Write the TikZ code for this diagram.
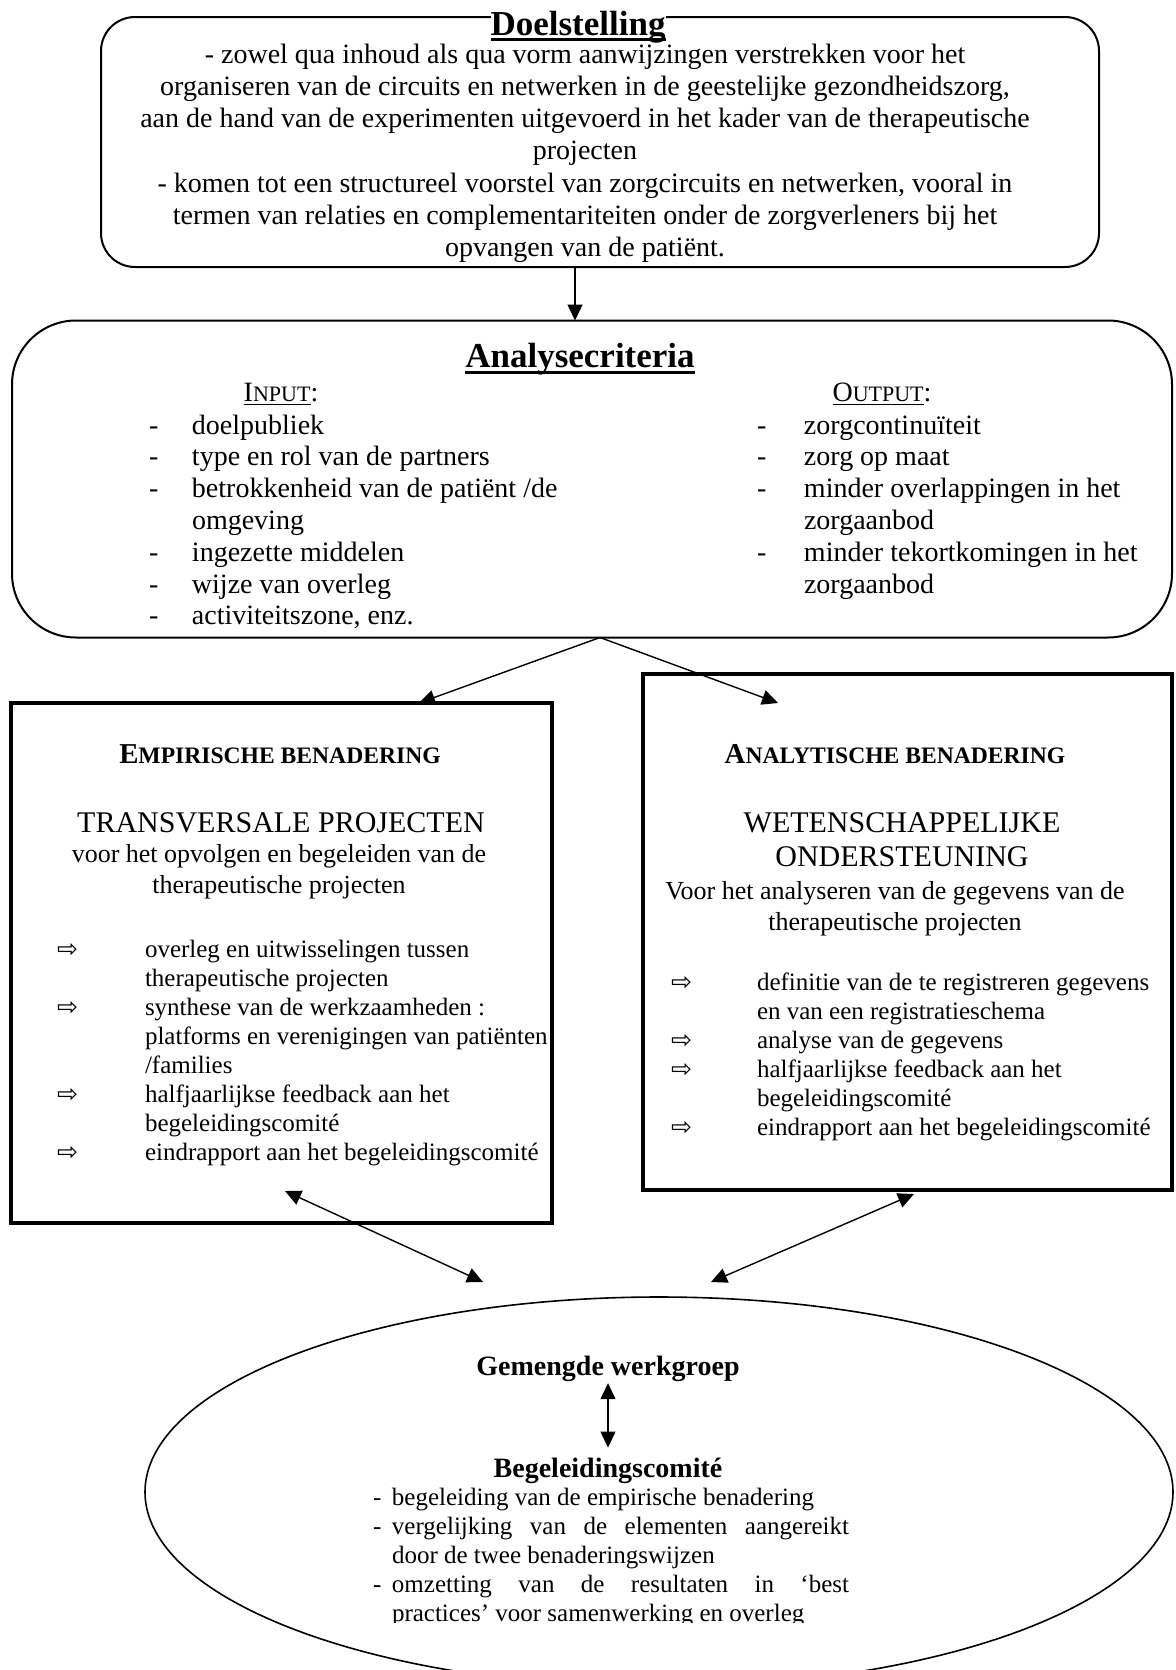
\documentclass[tikz,border=0pt]{standalone}
\usepackage{fontspec}
\setmainfont{Liberation Serif}
\newfontfamily\dejavu{DejaVu Sans}
\usetikzlibrary{arrows.meta,shapes.geometric}
\newcommand\fsz[2]{\fontsize{#1}{#2}\selectfont}
\newcommand\itemarrow{{\dejavu\fsz{12.5}{13}⇨}}
\begin{document}
\begin{tikzpicture}[x=0.5pt,y=-0.5pt,
  every node/.style={inner sep=0pt, outer sep=0pt},
  rbox/.style={draw, line width=1pt},
  sbox/.style={draw, line width=1.8pt},
  arr/.style={-{Triangle[length=8pt,width=7.5pt]}, line width=0.7pt},
  dbl/.style={{Triangle[length=8pt,width=7.5pt]}-{Triangle[length=8pt,width=7.5pt]}, line width=0.7pt},
  txt/.style={anchor=base},
  lst/.style={anchor=base west},
]
\useasboundingbox (0,0) rectangle (1175,1670);
\fill[white] (0,0) rectangle (1175,1670);

% boxes
\node[rbox, rounded corners=17pt, minimum width=499pt, minimum height=125pt] (goal) at (600,142) {};
\node[rbox, rounded corners=32pt, minimum width=580pt, minimum height=158.5pt] (ana) at (592,479) {};
\node[sbox, minimum width=270.5pt, minimum height=260pt] (emp) at (281.5,963) {};
\node[sbox, minimum width=264.5pt, minimum height=258pt] (anl) at (907.5,932) {};
\node[draw, ellipse, line width=0.8pt, minimum width=514pt, minimum height=195pt] (ell) at (659,1492) {};

% goal box text
\node[txt, fill=white] (goalT) at (578,35) {\fsz{17.5}{20}\bfseries Doelstelling};
\draw[line width=1.2pt] ([yshift=-2.3pt]goalT.base west) -- ([yshift=-2.3pt]goalT.base east);
\node[txt] (goalB) at (585,63) {\fsz{14}{16.15}\begin{tabular}[t]{@{}c@{}}
- zowel qua inhoud als qua vorm aanwijzingen verstrekken voor het\\
organiseren van de circuits en netwerken in de geestelijke gezondheidszorg,\\
aan de hand van de experimenten uitgevoerd in het kader van de therapeutische\\
projecten\\
- komen tot een structureel voorstel van zorgcircuits en netwerken, vooral in\\
termen van relaties en complementariteiten onder de zorgverleners bij het\\
opvangen van de patiënt.
\end{tabular}};

% analysis box text
\node[txt] (anaT) at (580,367) {\fsz{17.5}{20}\bfseries Analysecriteria};
\draw[line width=1.4pt] ([yshift=-2.6pt]anaT.base west) -- ([yshift=-2.6pt]anaT.base east);
\node[txt] (inT) at (281,401) {\fsz{14}{16}\underline{I{\fsz{11}{13}NPUT}}:};
\node[txt] (outT) at (882,401) {\fsz{14}{16}\underline{O{\fsz{11}{13}UTPUT}}:};
\node[lst] (inL) at (149,434) {\fsz{14}{15.9}\begin{tabular}[t]{@{}p{21.5pt}@{}l@{}}
- & doelpubliek\\
- & type en rol van de partners\\
- & betrokkenheid van de patiënt /de\\
  & omgeving\\
- & ingezette middelen\\
- & wijze van overleg\\
- & activiteitszone, enz.
\end{tabular}};
\node[lst] (outL) at (757,434) {\fsz{14}{15.9}\begin{tabular}[t]{@{}p{23.5pt}@{}l@{}}
- & zorgcontinuïteit\\
- & zorg op maat\\
- & minder overlappingen in het\\
  & zorgaanbod\\
- & minder tekortkomingen in het\\
  & zorgaanbod
\end{tabular}};

% empirical box text
\node[txt] (empT) at (280,763) {\bfseries\fsz{14.4}{16}E\fsz{11.8}{14}MPIRISCHE BENADERING};
\node[txt] (empS) at (281,832) {\fsz{15}{17}TRANSVERSALE PROJECTEN};
\node[txt] (empD) at (279,862) {\fsz{13}{15.8}\begin{tabular}[t]{@{}c@{}}voor het opvolgen en begeleiden van de\\therapeutische projecten\end{tabular}};
\node[lst] (empL) at (57,957) {\fsz{12.5}{14.5}\begin{tabular}[t]{@{}p{44pt}@{}l@{}}
\itemarrow & overleg en uitwisselingen tussen\\
 & therapeutische projecten\\
\itemarrow & synthese van de werkzaamheden :\\
 & platforms en verenigingen van patiënten\\
 & /families\\
\itemarrow & halfjaarlijkse feedback aan het\\
 & begeleidingscomité\\
\itemarrow & eindrapport aan het begeleidingscomité
\end{tabular}};

% analytical box text
\node[txt] (anlT) at (895,763) {\bfseries\fsz{14.4}{16}A\fsz{11.8}{14}NALYTISCHE BENADERING};
\node[txt] (anlS) at (902,832) {\fsz{15}{17.3}\begin{tabular}[t]{@{}c@{}}WETENSCHAPPELIJKE\\ONDERSTEUNING\end{tabular}};
\node[txt] (anlD) at (895,899) {\fsz{13}{15.8}\begin{tabular}[t]{@{}c@{}}Voor het analyseren van de gegevens van de\\therapeutische projecten\end{tabular}};
\node[lst] (anlL) at (671,990) {\fsz{12.5}{14.5}\begin{tabular}[t]{@{}p{43pt}@{}l@{}}
\itemarrow & definitie van de te registreren gegevens\\
 & en van een registratieschema\\
\itemarrow & analyse van de gegevens\\
\itemarrow & halfjaarlijkse feedback aan het\\
 & begeleidingscomité\\
\itemarrow & eindrapport aan het begeleidingscomité
\end{tabular}};

% ellipse text
\node[txt] (gw) at (608,1375) {\bfseries\fsz{14}{16}Gemengde werkgroep};
\node[txt] (bc) at (608,1477) {\bfseries\fsz{14}{16}Begeleidingscomité};
\begin{scope}
\clip (0,0) rectangle (1175,1622);
\node[lst] (bcL) at (373,1505) {\fsz{12.5}{14.5}\begin{tabular}[t]{@{}p{9.5pt}@{}p{228.5pt}@{}}
- & begeleiding van de empirische benadering\\
- & vergelijking van de elementen aangereikt\linebreak door de twee benaderingswijzen\\
- & omzetting van de resultaten in ‘best\linebreak practices’ voor samenwerking en overleg
\end{tabular}};
\end{scope}

% connectors
\coordinate (cx1) at (575,0);
\coordinate (cx2) at (600,0);
\coordinate (cx3) at (419,0);
\coordinate (e2) at (778,703);
\coordinate (d1) at (285,1191);
\coordinate (d2) at (483,1282);
\coordinate (d3) at (914,1194);
\coordinate (d4) at (711,1282);
\draw[arr] (goal.south -| cx1) -- (ana.north -| cx1);
\draw[arr] (ana.south -| cx2) -- (emp.north -| cx3);
\draw[arr] (ana.south -| cx2) -- (e2);
\draw[dbl] (d1) -- (d2);
\draw[dbl] (d3) -- (d4);
\draw[dbl] ([yshift=-1pt]gw.south) -- ([yshift=5pt]bc.north);
\end{tikzpicture}
\end{document}
